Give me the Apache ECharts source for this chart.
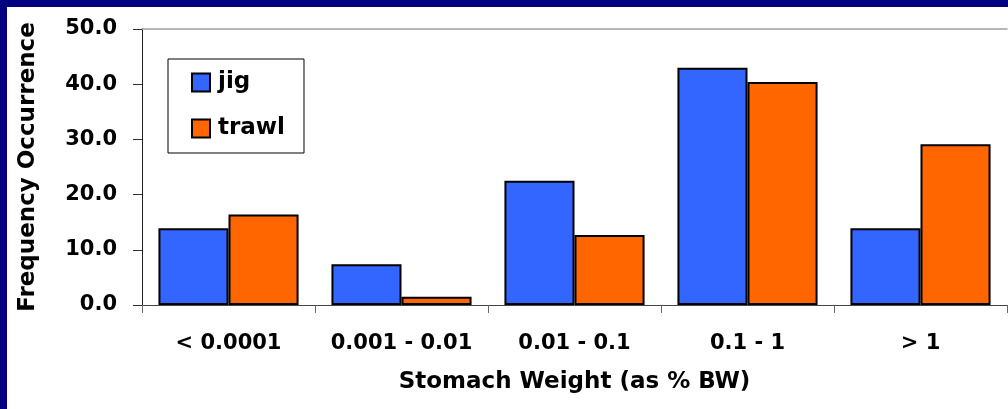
<!DOCTYPE html>
<html>
<head>
<meta charset="utf-8">
<script src="https://cdn.jsdelivr.net/npm/echarts@6/dist/echarts.min.js"></script>
<style>
  html, body { margin: 0; padding: 0; background: #000080; }
  #frame { position: absolute; left: 7px; top: 7px; width: 1001px; height: 402px; background: #ffffff; }
  #chart { position: absolute; left: 0; top: 0; width: 1008px; height: 409px; }
</style>
</head>
<body>
<div id="frame"></div>
<div id="chart"></div>
<script>
const categories = ['< 0.0001', '0.001 - 0.01', '0.01 - 0.1', '0.1 - 1', '> 1'];
const jigValues = [13.9, 7.4, 22.5, 43.0, 13.9];
const trawlValues = [16.4, 1.5, 12.7, 40.4, 29.1];
const seriesNames = ['jig', 'trawl'];
const xTitle = 'Stomach Weight (as % BW)';
const yTitle = 'Frequency Occurrence';

const FONT = 'DejaVu Sans';
const chart = echarts.init(document.getElementById('chart'), null, { renderer: 'canvas' });

chart.setOption({
  backgroundColor: 'transparent',
  animation: false,
  grid: { left: 142, right: 1, top: 29, bottom: 104, containLabel: false },
  legend: {
    orient: 'vertical',
    left: 168,
    top: 59,
    padding: [12, 19, 13, 23],
    itemWidth: 18,
    itemHeight: 18,
    itemGap: 23,
    backgroundColor: '#ffffff',
    borderColor: '#000000',
    borderWidth: 1,
    borderRadius: 0,
    icon: 'rect',
    textStyle: { fontFamily: FONT, fontWeight: 'bold', fontSize: 23, color: '#000000', padding: [0, 0, 0, 3] },
    data: seriesNames
  },
  xAxis: [
    {
      type: 'category',
      data: categories,
      position: 'bottom',
      axisLine: { show: true, lineStyle: { color: '#444444', width: 1 } },
      axisTick: { show: true, interval: 0, length: 8, lineStyle: { color: '#666666' } },
      axisLabel: { interval: 0, fontFamily: FONT, fontWeight: 'bold', fontSize: 21, color: '#000000', margin: 28 },
      name: xTitle,
      nameLocation: 'middle',
      nameGap: 66,
      nameTextStyle: { fontFamily: FONT, fontWeight: 'bold', fontSize: 23, color: '#000000' }
    },
    {
      type: 'category',
      data: categories,
      position: 'top',
      axisLine: { show: true, lineStyle: { color: '#a0a0a0', width: 1.5 } },
      axisTick: { show: false },
      axisLabel: { show: false }
    }
  ],
  yAxis: {
    type: 'value',
    min: 0,
    max: 50,
    interval: 10,
    axisLine: { show: true, lineStyle: { color: '#222222', width: 1 } },
    axisTick: { show: true, length: 9, lineStyle: { color: '#333333' } },
    splitLine: { show: false },
    axisLabel: {
      fontFamily: FONT, fontWeight: 'bold', fontSize: 21, color: '#000000', margin: 25,
      formatter: v => v.toFixed(1)
    },
    name: yTitle,
    nameLocation: 'middle',
    nameGap: 102,
    nameTextStyle: { fontFamily: FONT, fontWeight: 'bold', fontSize: 23, color: '#000000' }
  },
  series: [
    {
      name: seriesNames[0],
      type: 'bar',
      data: jigValues,
      barGap: '0%',
      barCategoryGap: '19%',
      itemStyle: { color: '#3366FF', borderColor: '#000000', borderWidth: 2 }
    },
    {
      name: seriesNames[1],
      type: 'bar',
      data: trawlValues,
      barGap: '0%',
      barCategoryGap: '19%',
      itemStyle: { color: '#FF6600', borderColor: '#000000', borderWidth: 2 }
    }
  ]
});
</script>
</body>
</html>
